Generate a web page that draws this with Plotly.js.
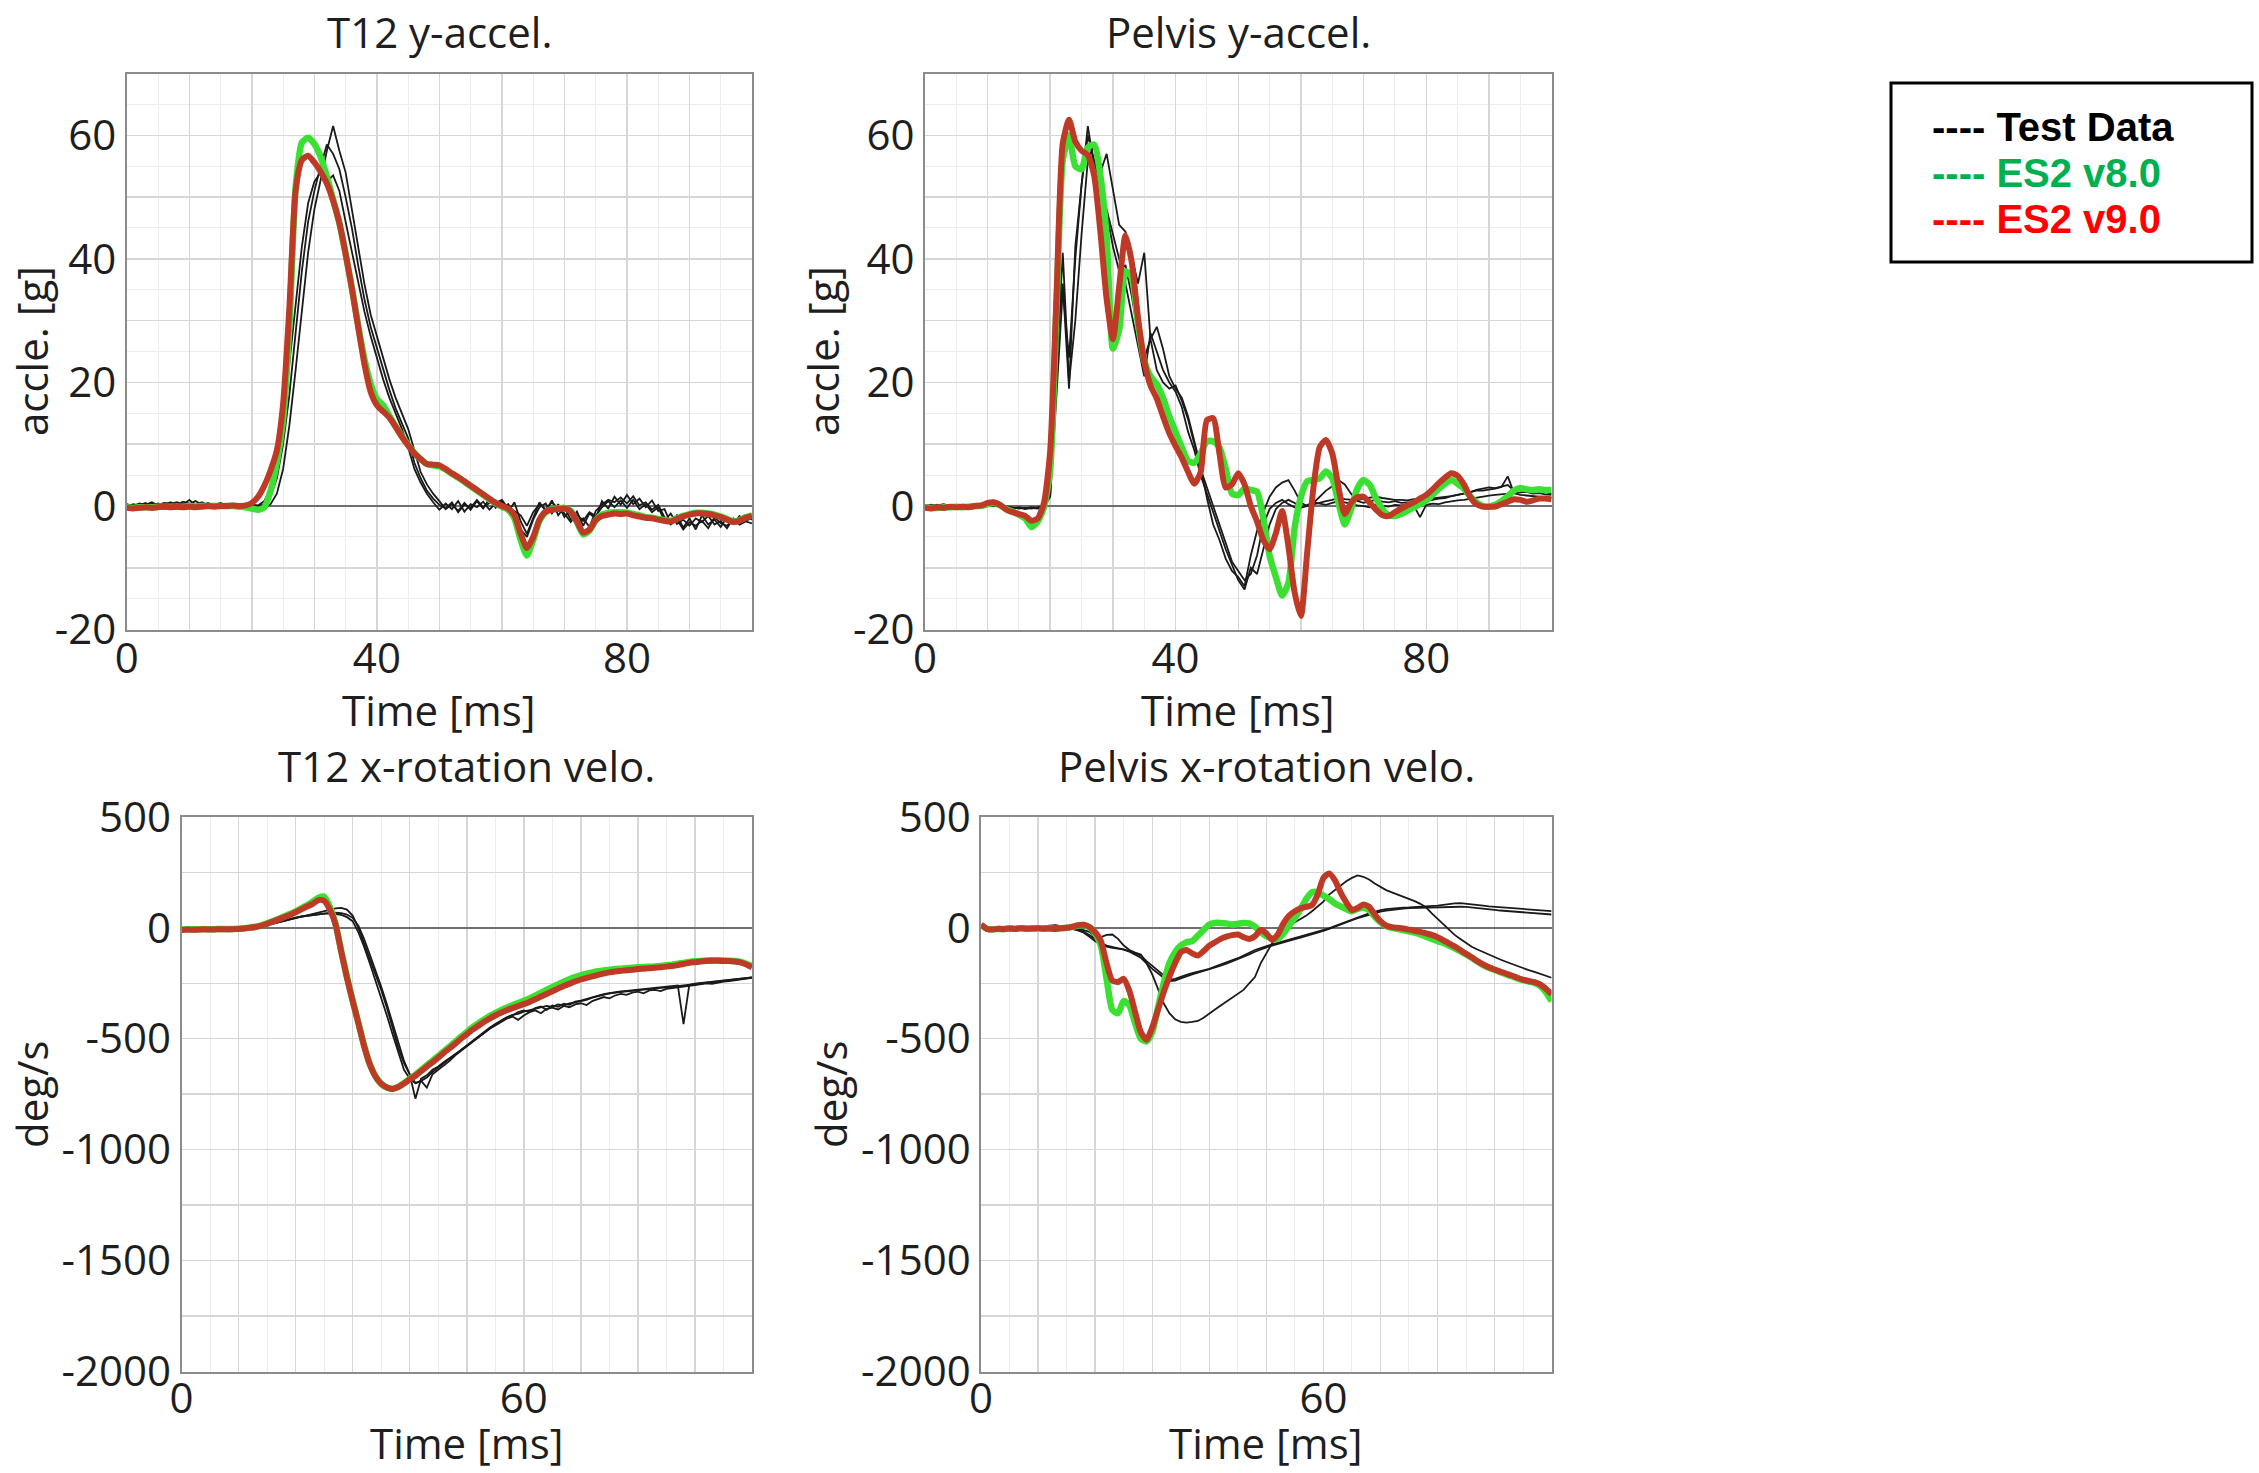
<!DOCTYPE html>
<html>
<head>
<meta charset="utf-8">
<script src="https://cdn.plot.ly/plotly-3.0.1.min.js"></script>
<style>
html,body{margin:0;padding:0;background:#ffffff;}
#chart{width:2259px;height:1473px;}
</style>
</head>
<body>
<div id="chart"></div>
<script>
// ---------- sample times (ms) ----------
const time = [0,1,2,3,4,5,6,7,8,9,10,11,12,13,14,15,16,17,18,19,20,21,22,23,24,25,26,27,28,29,30,31,32,33,34,35,36,37,38,39,40,41,42,43,44,45,46,47,48,49,50,51,52,53,54,55,56,57,58,59,60,61,62,63,64,65,66,67,68,69,70,71,72,73,74,75,76,77,78,79,80,81,82,83,84,85,86,87,88,89,90,91,92,93,94,95,96,97,98,99,100];

// ---------- tick labels ----------
const xTickVals = [0,10,20,30,40,50,60,70,80,90,100];
const xMinorVals = [5,15,25,35,45,55,65,75,85,95];
const topXTickText = ['0','','','','40','','','','80','',''];
const bottomXTickText = ['0','','','','','','60','','','',''];
const accTickVals = [-20,-10,0,10,20,30,40,50,60,70];
const accTickText = ['-20','','0','','20','','40','','60',''];
const accMinorVals = [-15,-5,5,15,25,35,45,55,65];
const velTickVals = [-2000,-1750,-1500,-1250,-1000,-750,-500,-250,0,250,500];
const velTickText = ['-2000','','-1500','','-1000','','-500','','0','','500'];

// ---------- texts ----------
const panelTitles = ['T12 y-accel.','Pelvis y-accel.','T12 x-rotation velo.','Pelvis x-rotation velo.'];
const xTitle = 'Time [ms]';
const yTitles = ['accle. [g]','accle. [g]','deg/s','deg/s'];
const legendLabels = ['---- Test Data','---- ES2 v8.0','---- ES2 v9.0'];

// ---------- T12 y-accel [g] ----------
const t12AccTestA = [0.1,-0.2,0.3,0,0.4,0.2,0.5,0.3,0.6,0.2,
 1,0.1,0.4,0.2,0.3,0.1,0.3,0.2,0.1,0.2,
 0,-0.2,-0.4,0.3,2,6,13,22,32,41,
 48,53,57.5,61.5,57.5,54,48,42,36,31,
 27.5,24,20.5,17.5,15,12.5,9,5.5,3.5,2,
 0.8,-0.5,0.3,-0.8,0.5,-0.6,0.8,-0.4,1.2,-0.3,
 0.8,-1,0.6,-2.5,-4.5,-1.8,0.6,-0.8,0.9,-1.5,
 -0.2,-2.2,-0.9,-3.2,-1.2,-2,0.8,-0.4,1.5,0.2,
 1.8,0.3,1.2,-0.2,0.9,-0.8,-0.5,-2.8,-1.5,-3.5,
 -2,-3.8,-1.5,-3,-2.2,-3.4,-1.8,-2.9,-1.6,-2.4,-1.9];
const t12AccTestB = [-0.2,0.3,0.1,0.5,-0.1,0.4,0.2,0.6,0.1,0.4,
 0.3,0.8,0.2,0.5,0,0.4,0.1,0.3,0,0.2,
 0.1,0,0.3,1.5,4.5,10,18,28,38,46,
 51,55,58.5,57,54.5,50,45,39,33.5,29,
 25.5,22,18.8,15.8,13.5,11,7,4.5,2.5,1.2,
 0.2,-0.4,0.6,-1,0.2,-0.3,1,-0.2,0.5,0.9,
 -0.5,0.3,-1.2,-3.8,-5,-2.2,-0.2,0.4,-1.2,0.3,
 -1.8,-0.6,-2.8,-2,-3.4,-0.8,0.2,1,0.6,1.4,
 0.4,1.6,0.1,0.6,-0.6,0.2,-1.8,-3,-2.2,-3.8,
 -2.6,-3.2,-2.4,-3.6,-1.8,-2.8,-3.2,-2.1,-2.7,-1.8,-2.2];
const t12AccTestC = [0.3,0,0.4,0.2,0.6,0.1,0.3,0.5,0.2,0.7,
 0.4,0.2,0.6,0.1,0.2,0.5,0,0.2,0.1,0,
 0.2,0.1,0.8,3,7.5,14,23,33,42,49,
 52.5,54,52.5,53.5,51,46,41,36,31.5,27.5,
 24,20.5,17.5,15,12.5,9.5,6,3.8,2,0.6,
 -0.6,0.4,-0.5,0.8,-0.9,0.3,-0.2,0.7,-0.6,0.5,
 1,-0.4,-0.8,-1.5,-3.2,-1,0.3,-0.5,0.6,-0.4,
 -1.2,-2.6,-1.4,-2.4,-1,-1.6,-0.2,0.8,-0.2,0.9,
 -0.3,1,-0.5,0.3,-1,-0.2,-2.4,-1.2,-2.9,-2.2,
 -3.2,-2,-2.6,-1.6,-3,-2.4,-3.6,-2,-3,-2.5,-2.8];
const t12AccV8 = [-0.2,-0.3,-0.2,-0.2,-0.2,-0.1,-0.1,-0.1,-0.1,-0.1,
 0,-0.1,0,0,0,0,0,0,-0.1,-0.2,
 -0.4,-0.6,-0.2,2.5,7,14,29,51.5,58.8,59.6,
 58.6,56.5,53.3,49.6,45.8,40.8,35.3,29.3,23.8,19.8,
 17.3,16.3,14.6,12.9,11.3,9.9,8.6,7.6,6.8,6.6,
 6.4,5.9,5.2,4.6,3.9,3.2,2.5,1.8,1.1,0.4,
 -0.1,-0.6,-2,-5.5,-8,-5.5,-2.4,-1,-0.5,-0.4,
 -0.3,-0.8,-2.6,-4.6,-4,-2.3,-1.4,-1.1,-1,-1,
 -1.1,-1.3,-1.5,-1.8,-1.9,-2.1,-2.3,-2.4,-2,-1.6,
 -1.3,-1.1,-1.1,-1.2,-1.4,-1.7,-2.1,-2.5,-2.3,-1.8,-1.5];
const t12AccV9 = [-0.3,-0.4,-0.3,-0.2,-0.3,-0.2,-0.1,-0.2,-0.1,-0.2,
 -0.1,-0.2,-0.1,0,-0.1,0,0,0.1,0,0.1,
 0.5,1.5,3.3,5.8,9,16.5,32,51,56,56.7,
 55.6,54.1,52.2,49.4,45.8,40.8,35.2,29,23,18.5,
 16.3,15.3,14.3,12.8,11.2,9.8,8.5,7.6,6.8,6.7,
 6.6,6,5.3,4.7,4,3.3,2.6,1.9,1.2,0.5,
 0,-0.4,-1.5,-4.5,-6.8,-5,-2.2,-0.9,-0.6,-0.5,
 -0.4,-0.9,-2.5,-4.3,-3.8,-2.3,-1.6,-1.4,-1.2,-1.3,
 -1.2,-1.5,-1.7,-1.9,-2,-2.2,-2.4,-2.5,-2.1,-1.7,
 -1.4,-1.2,-1.2,-1.3,-1.5,-1.8,-2.2,-2.6,-2.4,-1.9,-1.6];

// ---------- Pelvis y-accel [g] ----------
const pelAccTestA = [0.2,-0.1,0.1,0.3,0,-0.2,0.2,0.1,0.3,0,
 0.2,0.1,-0.1,-0.3,-0.4,-0.2,-0.5,-0.3,-0.4,-0.2,
 1.5,18,35,24,40,52,61.5,55,54,57,
 51,45.5,44.4,40.5,36,41,27,29,25.4,21,
 19,17.5,14.5,10.5,6.4,1.3,-3,-5.5,-8.5,-10.5,
 -11.5,-13,-8,-4,-1,1.5,3,3.8,4.2,2.5,
 0.5,0,0.3,0.6,0.8,1,1.3,1.1,1,0.9,
 1.2,1.4,1.5,1.3,1.1,1,1,0.9,1.1,1,
 1.1,1.2,1.3,1.5,1.6,1.8,2,2.3,2.5,2.5,
 2.6,2.8,3.1,4.8,2.1,2.2,2.3,2,2.1,1.9,1.8];
const pelAccTestB = [0,0.2,-0.1,0.1,0.2,0,0.1,-0.1,0.2,0.1,
 0,0.2,0,-0.2,-0.3,-0.3,-0.4,-0.2,-0.3,0,
 3,22,41,20,30,44,56,58.5,51,48,
 44,40,36,31,26,21,28,25,22,20,
 18.5,16,12,9,5,2,-1,-4,-7,-9.5,
 -12,-13.5,-10,-11,-7,-3,-0.5,0.5,1,0.5,
 -0.2,0,0.5,1.5,2.5,3.2,4.2,3.5,2,0.8,
 0.5,0.8,1,0.7,0.6,0.8,0.5,0.6,0.4,0.7,
 0.8,1,1.2,1.3,1.6,1.8,2,2.2,2.6,2.8,
 3,2.9,3.2,3.4,2.5,2.8,2.6,2.3,2.5,2.2,2];
const pelAccTestC = [0.1,0,0.2,0,0.1,0.2,0,0.1,0.1,0.2,
 0.1,0,0.1,-0.1,-0.2,-0.4,-0.3,-0.4,-0.2,0.1,
 2,26,36,19,42,52,60,56,52,47.5,
 42,38,39,34,28,24,27,22,20,19,
 19.5,17,14,10,6,3,0,-3,-6,-9,
 -10.5,-12,-11,-8,-3,-0.5,0.5,1,0.3,-0.2,
 -0.3,0.2,0.6,0.4,0.2,0.5,0.8,0.6,0.3,0.1,
 0,-0.2,0.2,0.1,-0.1,0.2,0.1,0.3,0.1,-1.8,
 0.2,0.4,0.3,0.6,0.8,0.9,1,1.2,1.4,1.5,
 1.7,1.8,1.9,2,2.1,1.8,1.7,1.6,1.5,1.4,1.3];
const pelAccV8 = [-0.2,-0.3,-0.3,-0.2,-0.2,-0.1,-0.2,-0.1,0,0,
 0.3,0.5,0.1,-0.5,-0.9,-1.4,-2,-3.4,-2.5,-0.2,
 6,32,56,60,55,54.5,58,58.5,53.5,43.5,
 25.5,28.5,38,37,29.5,23.5,21,19.7,17.5,14.5,
 12,9.5,7.3,7,8.5,10.5,10.5,9.5,6,2,
 1.8,2.8,2.6,2.3,-2,-8,-11.5,-14.5,-12.5,-3.5,
 1.5,4,4.2,4.5,5.6,4.5,0.5,-3,-0.5,2.8,
 4.2,3.4,1.2,-0.5,-1.5,-1.6,-1.3,-0.8,-0.2,0.3,
 0.9,1.8,2.8,3.6,4.2,3.6,2.8,1.6,0.6,0,
 -0.1,0.2,0.8,1.6,2.5,2.9,2.7,2.6,2.7,2.6,2.6];
const pelAccV9 = [-0.3,-0.4,-0.2,-0.3,-0.1,-0.2,-0.1,-0.2,0,0.1,
 0.5,0.6,0.2,-0.6,-1,-1.3,-1.6,-2.4,-2,0.5,
 9,34,58.7,62.5,59,57.5,56.8,53.5,44.4,33.5,
 27,35.5,43.8,39.5,30.5,23.5,19.5,17.4,14.5,11.8,
 9.7,7.8,5.5,3.6,5.5,13.9,14.2,8.5,3,3.5,
 5.3,3.5,0,-2.5,-5.5,-7,-4.4,-0.8,-6.5,-14,
 -17.8,-7.5,3,9.5,10.7,8.5,3,-1.3,0.5,1.4,
 1.5,0.5,-0.6,-1.5,-1.6,-1,-0.4,0.1,0.6,1.2,
 1.8,2.7,3.7,4.6,5.3,4.9,3.5,1.5,0.3,-0.1,
 -0.1,-0.1,0.3,0.7,1.1,1,0.7,0.9,1.2,1.2,1.1];

// ---------- T12 x-rotation velocity [deg/s] ----------
const t12VelTestA = [-12,-8,-10,-6,-9,-7,-8,-5,-7,-6,
 -5,-4,-2,0,5,10,18,25,32,38,
 44,50,56,62,68,75,82,88,90,82,
 55,0,-70,-140,-210,-280,-360,-450,-540,-610,
 -660,-700,-690,-720,-660,-640,-620,-600,-575,-555,
 -535,-515,-495,-475,-455,-440,-425,-410,-400,-415,
 -395,-380,-372,-385,-365,-360,-368,-352,-358,-345,
 -340,-348,-330,-320,-312,-318,-305,-298,-302,-292,
 -288,-295,-282,-280,-285,-275,-272,-270,-268,-262,
 -258,-255,-250,-252,-246,-243,-240,-237,-233,-230,-226];
const t12VelTestB = [-8,-10,-7,-9,-6,-8,-6,-7,-5,-6,
 -4,-3,-1,2,7,13,20,27,34,40,
 45,50,54,58,62,65,67,68,66,60,
 45,10,-50,-120,-190,-265,-345,-430,-520,-600,
 -660,-770,-680,-665,-640,-625,-605,-588,-570,-552,
 -532,-512,-492,-472,-452,-436,-420,-404,-392,-388,
 -378,-372,-364,-358,-352,-356,-345,-350,-340,-336,
 -332,-325,-315,-308,-300,-296,-292,-289,-286,-283,
 -280,-278,-276,-273,-271,-269,-266,-264,-260,-257,
 -254,-250,-248,-245,-242,-240,-238,-234,-231,-228,-224];
const t12VelTestC = [-10,-7,-9,-8,-8,-6,-7,-6,-6,-5,
 -4,-2,0,3,8,14,21,28,35,41,
 46,51,55,59,62,64,65,63,58,48,
 30,-20,-85,-160,-235,-310,-395,-480,-565,-640,
 -680,-700,-690,-675,-650,-630,-610,-590,-566,-548,
 -528,-508,-488,-468,-450,-434,-418,-404,-395,-380,
 -372,-380,-362,-355,-370,-350,-356,-342,-347,-333,
 -328,-320,-313,-306,-299,-295,-290,-287,-284,-281,
 -278,-275,-272,-270,-268,-265,-262,-260,-434,-258,
 -252,-249,-246,-244,-241,-238,-236,-233,-230,-227,-223];
const t12VelV8 = [-8,-7,-7,-6,-6,-7,-6,-5,-6,-5,
 -4,-2,1,5,11,20,30,40,51,62,
 74,88,102,118,135,140,95,18,-105,-222,
 -328,-428,-530,-614,-669,-703,-720,-725,-717,-700,
 -681,-663,-641,-620,-599,-578,-556,-535,-513,-491,
 -470,-449,-431,-414,-398,-384,-371,-360,-349,-339,
 -329,-318,-306,-293,-280,-267,-255,-243,-232,-222,
 -214,-207,-201,-196,-192,-189,-186,-184,-182,-180,
 -178,-177,-176,-174,-172,-169,-166,-162,-158,-154,
 -151,-149,-147,-146,-146,-147,-148,-150,-154,-162,-172];
const t12VelV9 = [-10,-8,-9,-8,-7,-8,-7,-6,-7,-6,
 -5,-3,0,4,10,18,28,38,48,58,
 70,83,96,108,125,122,82,15,-108,-225,
 -330,-430,-532,-615,-670,-703,-720,-726,-718,-702,
 -684,-667,-646,-626,-606,-585,-563,-543,-522,-500,
 -480,-459,-442,-425,-409,-395,-383,-372,-362,-353,
 -344,-334,-322,-310,-298,-286,-274,-262,-252,-242,
 -233,-226,-219,-212,-206,-201,-197,-194,-191,-189,
 -186,-184,-182,-180,-178,-175,-172,-168,-163,-158,
 -155,-152,-150,-149,-149,-150,-150,-152,-156,-165,-178];

// ---------- Pelvis x-rotation velocity [deg/s] ----------
const pelVelTestA = [10,0,-3,-2,0,-2,0,-1,1,0,
 3,6,10,12,8,4,0,-5,-10,-18,
 -40,-42,-32,-30,-50,-80,-100,-112,-120,-160,
 -210,-275,-340,-385,-412,-424,-427,-424,-420,-405,
 -385,-368,-350,-332,-315,-298,-280,-250,-222,-160,
 -115,-70,-25,-5,12,25,40,55,75,95,
 118,150,170,192,210,225,236,230,218,200,
 185,170,160,150,142,132,120,108,92,65,
 40,15,-10,-32,-50,-68,-85,-98,-110,-122,
 -132,-143,-153,-163,-173,-183,-191,-199,-207,-216,-225];
const pelVelTestB = [5,-2,0,-3,-1,0,-2,1,0,-1,
 2,6,9,10,6,2,-5,-12,-22,-40,
 -60,-75,-85,-90,-94,-97,-105,-115,-125,-150,
 -172,-195,-215,-235,-230,-220,-212,-204,-198,-192,
 -185,-175,-166,-157,-147,-137,-125,-113,-100,-92,
 -82,-75,-68,-61,-54,-47,-40,-33,-26,-19,
 -11,-2,8,18,28,38,48,56,65,72,
 80,84,87,89,91,92,93,94,95,97,
 100,103,107,110,111,109,106,103,100,97,
 95,93,91,89,87,84,82,80,78,76,75];
const pelVelTestC = [3,0,-2,0,-2,1,-1,0,-2,0,
 1,4,7,8,5,1,-4,-10,-18,-32,
 -50,-68,-80,-86,-92,-98,-108,-120,-135,-160,
 -185,-205,-225,-240,-238,-228,-218,-210,-202,-195,
 -188,-180,-171,-162,-152,-142,-131,-120,-108,-97,
 -88,-80,-72,-65,-58,-51,-44,-37,-30,-22,
 -14,-5,4,14,24,34,44,52,60,67,
 73,78,82,85,87,89,90,91,92,93,
 94,95,96,96,95,94,92,90,87,84,
 81,78,76,74,72,70,68,66,64,62,60];
const pelVelV8 = [12,-4,-7,-5,-5,-3,-4,-2,-3,-3,
 -2,-3,-3,-4,-2,0,4,10,12,2,
 -25,-80,-230,-370,-385,-330,-350,-430,-500,-512,
 -470,-360,-250,-160,-110,-80,-65,-60,-35,-10,
 15,22,22,20,15,18,22,20,5,-20,
 -38,-48,-50,-25,10,45,85,130,160,160,
 145,130,110,97,85,75,85,90,80,50,
 25,8,0,-5,-10,-16,-22,-30,-40,-50,
 -60,-68,-80,-92,-105,-120,-135,-152,-168,-180,
 -190,-200,-210,-218,-228,-236,-242,-248,-262,-290,-330];
const pelVelV9 = [15,-5,-8,-4,-6,-3,-5,-2,-4,-3,
 -2,-4,-3,-5,-2,0,5,12,14,4,
 -20,-60,-160,-238,-244,-230,-285,-380,-470,-505,
 -449,-370,-290,-220,-160,-110,-100,-115,-125,-105,
 -80,-65,-50,-40,-33,-30,-42,-50,-38,-10,
 -25,-55,-30,20,55,75,88,95,102,150,
 225,245,215,160,115,80,90,105,95,60,
 30,10,3,0,-3,-8,-13,-18,-25,-32,
 -42,-55,-70,-84,-100,-117,-133,-150,-165,-178,
 -188,-197,-206,-215,-225,-234,-240,-245,-255,-275,-300];

// ---------- styling ----------
const FONT = '"Open Sans", "Noto Sans", sans-serif';
const TXT = '#1e1e1e';
const GRID = '#d6d6d6';
const MINOR = '#ececec';
const BORDER = '#8c8c8c';
const TEST_COLOR = '#1a1a1a';
const V8_COLOR = '#3be033';
const V9_COLOR = '#bf3a26';
const W = 2259, H = 1473;

function px(x){ return x / W; }
function py(y){ return 1 - y / H; }

const panels = [
  {xa:'x',  ya:'y',  test:[t12AccTestA,t12AccTestB,t12AccTestC], v8:t12AccV8, v9:t12AccV9},
  {xa:'x2', ya:'y2', test:[pelAccTestA,pelAccTestB,pelAccTestC], v8:pelAccV8, v9:pelAccV9},
  {xa:'x3', ya:'y3', test:[t12VelTestA,t12VelTestB,t12VelTestC], v8:t12VelV8, v9:t12VelV9},
  {xa:'x4', ya:'y4', test:[pelVelTestA,pelVelTestB,pelVelTestC], v8:pelVelV8, v9:pelVelV9}
];

const traces = [];
panels.forEach(p => {
  p.test.forEach(series => {
    traces.push({x:time, y:series, xaxis:p.xa, yaxis:p.ya, type:'scatter', mode:'lines',
      name:legendLabels[0], line:{color:TEST_COLOR, width:1.8}, hoverinfo:'skip'});
  });
  traces.push({x:time, y:p.v8, xaxis:p.xa, yaxis:p.ya, type:'scatter', mode:'lines',
    name:legendLabels[1], line:{color:V8_COLOR, width:6.5, shape:'spline', smoothing:0.6}, hoverinfo:'skip'});
  traces.push({x:time, y:p.v9, xaxis:p.xa, yaxis:p.ya, type:'scatter', mode:'lines',
    name:legendLabels[2], line:{color:V9_COLOR, width:6, shape:'spline', smoothing:0.6}, hoverinfo:'skip'});
});

const tf = {family:FONT, size:42, color:TXT};

function xAx(domain, anchor, ticktext, standoff){
  return {
    domain:domain, anchor:anchor, range:[0,100], autorange:false,
    tickmode:'array', tickvals:xTickVals, ticktext:ticktext,
    showgrid:true, gridcolor:GRID, gridwidth:1.5,
    minor:{tickmode:'array', tickvals:xMinorVals, showgrid:true, gridcolor:MINOR, gridwidth:1},
    zeroline:false, showline:true, mirror:true, linecolor:BORDER, linewidth:2,
    ticks:'', ticklabelstandoff:standoff, tickfont:tf
  };
}
function yAx(domain, anchor, range, tv, tt, minorVals){
  const a = {
    domain:domain, anchor:anchor, range:range, autorange:false,
    tickmode:'array', tickvals:tv, ticktext:tt,
    showgrid:true, gridcolor:GRID, gridwidth:1.5,
    zeroline:true, zerolinecolor:'#6f6f6f', zerolinewidth:2,
    showline:true, mirror:true, linecolor:BORDER, linewidth:2,
    ticks:'', ticklabelstandoff:0, tickfont:tf
  };
  if (minorVals) a.minor = {tickmode:'array', tickvals:minorVals, showgrid:true, gridcolor:MINOR, gridwidth:1};
  return a;
}

const topY = [py(629.6), py(73.5)];
const botY = [py(1371.5), py(816.9)];

function note(text, x, y, extra){
  return Object.assign({text:text, x:px(x), y:py(y), xref:'paper', yref:'paper', showarrow:false,
    xanchor:'center', yanchor:'middle', font:tf}, extra || {});
}
const legFont = c => ({family:'"Liberation Sans", Arial, sans-serif', size:40, color:c});

const layout = {
  width:W, height:H,
  margin:{l:0, r:0, t:0, b:0},
  paper_bgcolor:'#ffffff', plot_bgcolor:'#ffffff',
  showlegend:false,
  font:{family:FONT, color:TXT},
  xaxis:  xAx([px(126.8), px(752)],  'y',  topXTickText, -9),
  yaxis:  yAx(topY, 'x',  [-20,70], accTickVals, accTickText, accMinorVals),
  xaxis2: xAx([px(924.9), px(1551.6)], 'y2', topXTickText, -9),
  yaxis2: yAx(topY, 'x2', [-20,70], accTickVals, accTickText, accMinorVals),
  xaxis3: xAx([px(181.5), px(752)],  'y3', bottomXTickText, -11),
  yaxis3: yAx(botY, 'x3', [-2000,500], velTickVals, velTickText, null),
  xaxis4: xAx([px(981.1), px(1551.6)], 'y4', bottomXTickText, -11),
  yaxis4: yAx(botY, 'x4', [-2000,500], velTickVals, velTickText, null),
  annotations: [
    note(panelTitles[0], 439.4, 31),
    note(panelTitles[1], 1238.2, 31),
    note(panelTitles[2], 466.8, 765),
    note(panelTitles[3], 1266.4, 765),
    note(xTitle, 439.4, 709),
    note(xTitle, 1238.2, 709),
    note(xTitle, 466.8, 1442),
    note(xTitle, 1266.4, 1442),
    note(yTitles[0], 31, 351, {textangle:-90}),
    note(yTitles[1], 822, 351, {textangle:-90}),
    note(yTitles[2], 31, 1094, {textangle:-90}),
    note(yTitles[3], 830, 1094, {textangle:-90}),
    note('<b>'+legendLabels[0]+'</b>', 1930, 127, {xanchor:'left', font:legFont('#000000')}),
    note('<b>'+legendLabels[1]+'</b>', 1930, 173, {xanchor:'left', font:legFont('#00b050')}),
    note('<b>'+legendLabels[2]+'</b>', 1930, 219, {xanchor:'left', font:legFont('#ff0000')})
  ],
  shapes: [
    {type:'rect', xref:'paper', yref:'paper', x0:px(1891), x1:px(2252), y0:py(262), y1:py(83),
      line:{color:'#000000', width:3}, fillcolor:'rgba(0,0,0,0)'}
  ]
};

Plotly.newPlot('chart', traces, layout, {displayModeBar:false, staticPlot:true});
</script>
</body>
</html>
